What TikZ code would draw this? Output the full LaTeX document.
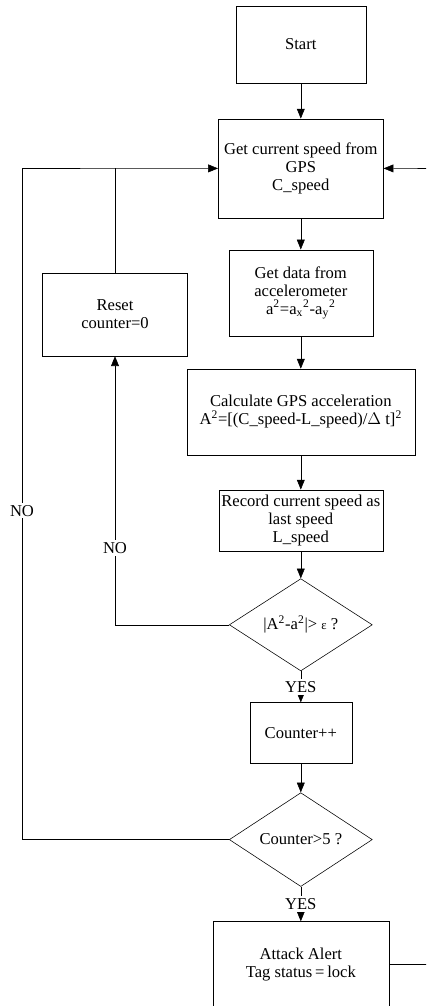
\documentclass[tikz,border=0pt]{standalone}
\usepackage{fontspec}
\setmainfont{Liberation Serif}
\usetikzlibrary{arrows.meta}
\usetikzlibrary{positioning}
\usetikzlibrary{shapes.geometric}

\tikzset{
  box/.style={draw, thin, rectangle, align=center, inner sep=1pt,
    font=\fontsize{11.8}{12.8}\selectfont},
  decision/.style={draw, thin, diamond, align=center, inner sep=0pt,
    minimum width=3.575cm, minimum height=2.15cm,
    font=\fontsize{11.8}{12.8}\selectfont},
  flow/.style={draw, thin, -{Triangle[length=7pt,width=5.6pt]}},
  tag/.style={fill=white, inner sep=1.5pt, font=\fontsize{11.8}{12.8}\selectfont}
}

\begin{document}
\begin{tikzpicture}[node distance=3cm,on grid]
   \useasboundingbox (0,0) rectangle (10.65,-25.15);
   \clip (0,0) rectangle (10.65,-25.15);
   \node[box, minimum width=3.25cm, minimum height=1.925cm] (start) at (7.52,-1.11) {Start};
   \node[box, minimum width=4.125cm, minimum height=2.475cm] (gps) [below=3.1cm of start]
      {Get current speed from\\GPS\\C\_speed};
   \node[box, minimum width=3.6cm, minimum height=2.15cm] (data) [below=3.11cm of gps]
      {Get data from\\accelerometer\\a\textsuperscript{2}=a\textsubscript{x}\textsuperscript{2}-a\textsubscript{y}\textsuperscript{2}};
   \node[box, minimum width=5.7cm, minimum height=2.15cm] (calc) [below=2.98cm of data]
      {Calculate GPS acceleration\\A\textsuperscript{2}=[(C\_speed-L\_speed)/$\Delta$ t]\textsuperscript{2}};
   \node[box, minimum width=4.1cm, minimum height=1.525cm] (rec) [below=2.71cm of calc]
      {Record current speed as\\last speed\\L\_speed};
   \node[decision] (check) [below=2.61cm of rec]
      {|A\textsuperscript{2}-a\textsuperscript{2}|> {\small ε} ?};
   \node[box, minimum width=2.55cm, minimum height=1.525cm] (count) [below=2.71cm of check] {Counter++};
   \node[decision, minimum height=2.1cm] (limit) [below=2.66cm of count] {Counter>5 ?};
   \node[box, minimum width=4.4cm, minimum height=2.15cm] (alert) [below=3.125cm of limit]
      {Attack Alert\\Tag status\,=\,lock};
   \node[box, minimum width=3.625cm, minimum height=2.075cm] (reset) at (2.875,-7.86)
      {Reset\\counter=0};

   \coordinate (looptop) at (0.55,-4.2125);
   \coordinate (loopbot) at (looptop |- limit.west);
   \coordinate (rightin) at (10.8,-4.2125);

    \path[flow]
    (start) edge (gps)
    (gps) edge (data)
    (data) edge (calc)
    (calc) edge (rec)
    (rec) edge (check);
   \draw[flow] (rightin) -- (gps.east);
   \draw[flow] (check) -- node[tag]{YES} (count);
   \draw[flow] (count) -- (limit);
   \draw[flow] (limit) -- node[tag]{YES} (alert);
   \draw[flow] (check.west) -| node[tag, pos=0.643]{NO} (reset.south);
   \draw (reset.north) -- (reset.north |- gps.west);
   \draw (limit.west) -- (loopbot) -- node[tag, pos=0.49]{NO} (looptop);
   \draw[flow] (looptop) -- (gps.west);
   \draw (alert.east) -- (alert.east -| rightin);
\end{tikzpicture}
\end{document}
